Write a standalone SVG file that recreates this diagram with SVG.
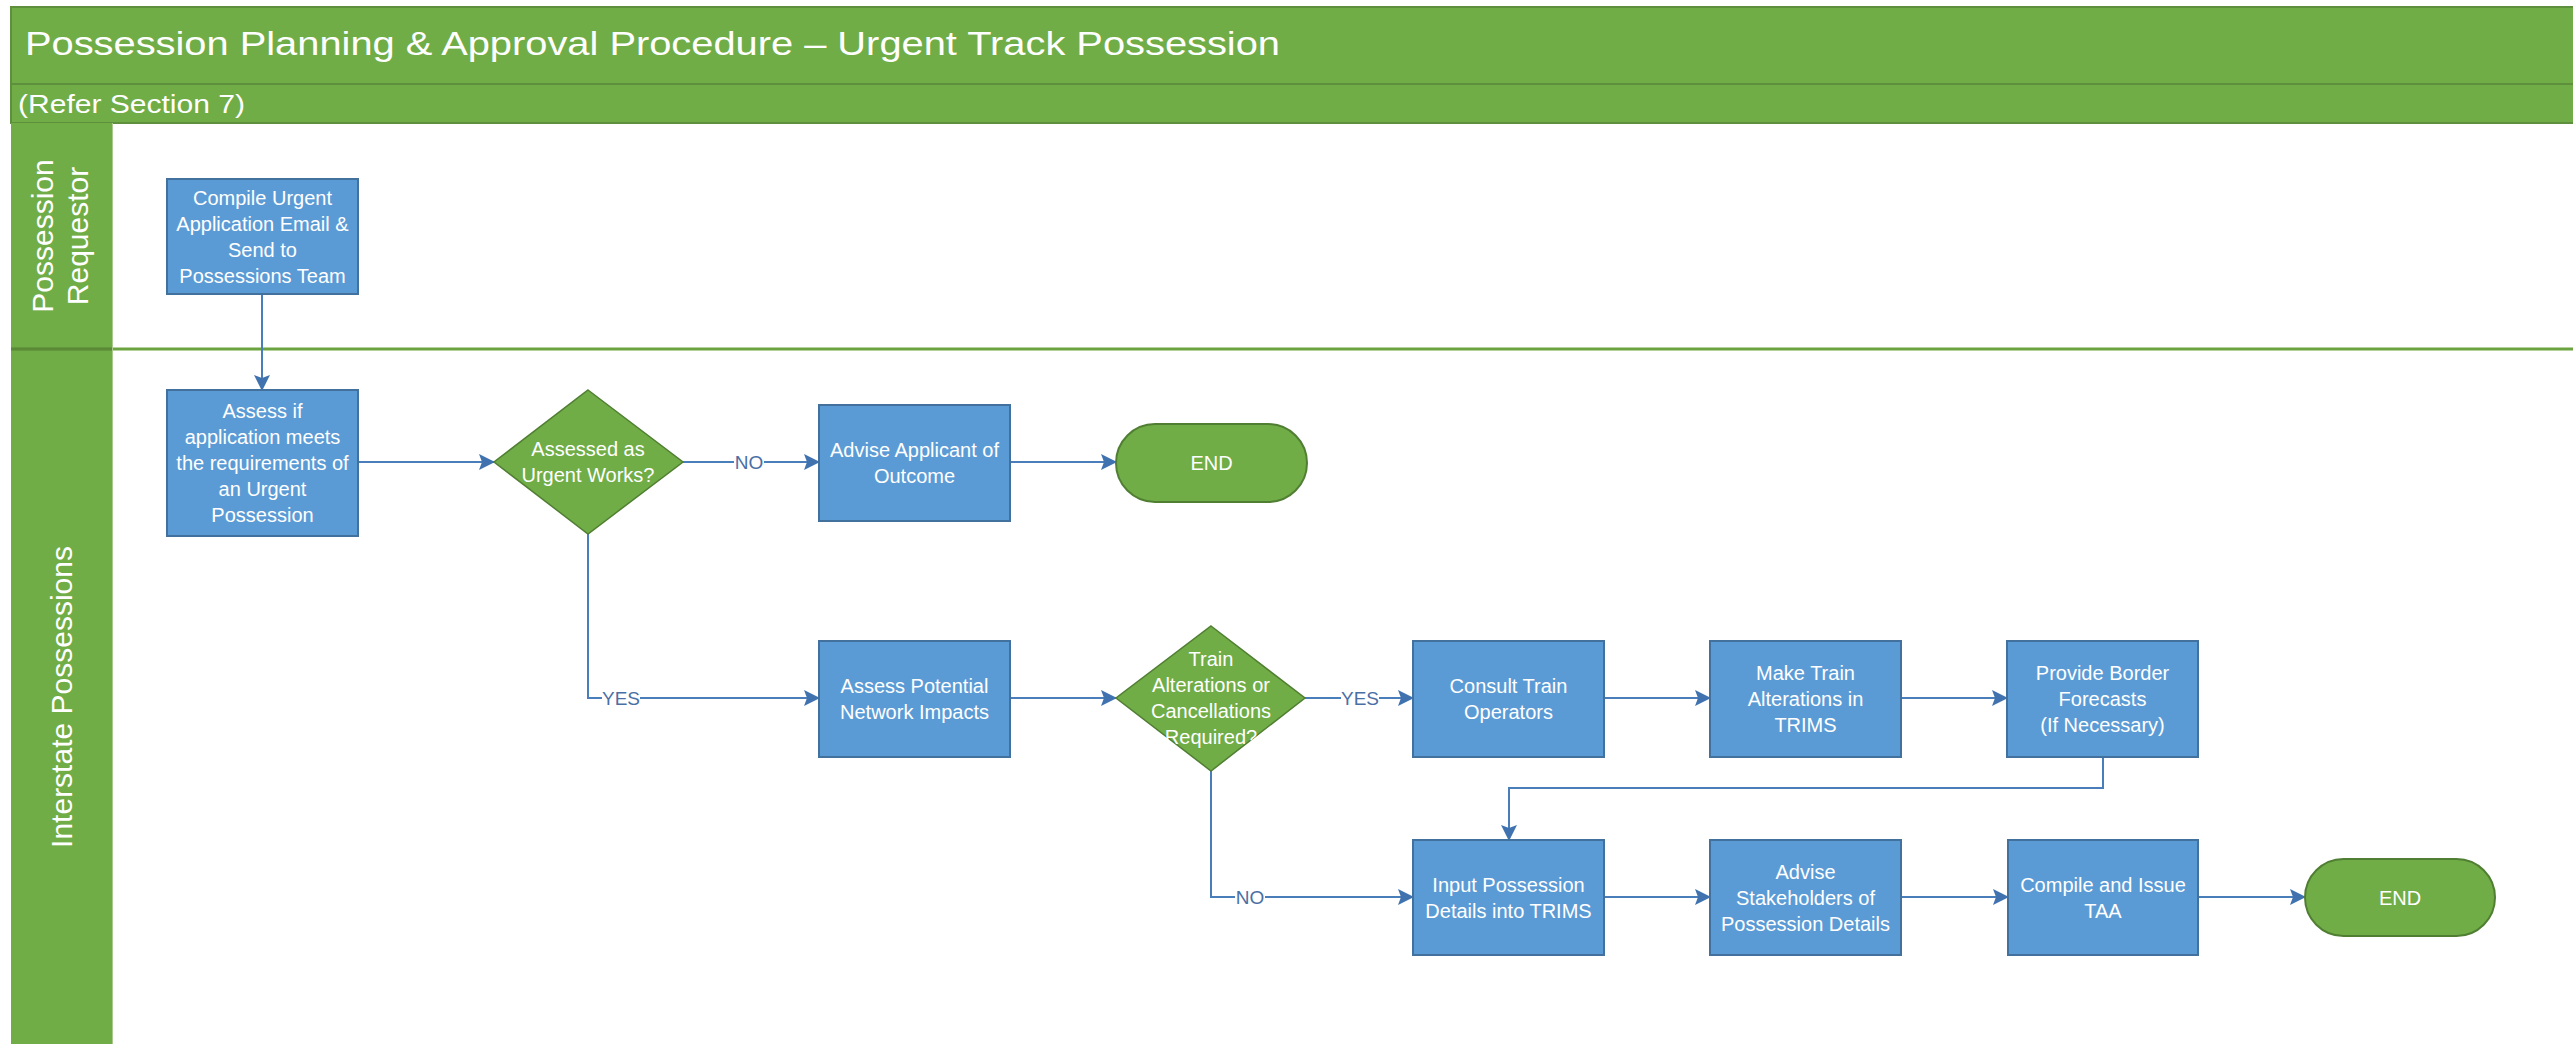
<svg xmlns="http://www.w3.org/2000/svg" width="2573" height="1044" viewBox="0 0 2573 1044">
<style>
.bar{fill:#70AD47;stroke:#5E8F3C;stroke-width:2}
.lanehdr{fill:#70AD47}
.box{fill:#5B9BD5;stroke:#41719C;stroke-width:2}
.dec{fill:#70AD47;stroke:#507E32;stroke-width:1.5}
.term{fill:#70AD47;stroke:#507E32;stroke-width:2}
.t{font-family:"Liberation Sans",Arial,sans-serif;font-size:20px;fill:#FFFFFF;text-anchor:middle}
.hdr{font-family:"Liberation Sans",Arial,sans-serif;font-size:30px;fill:#FFFFFF;text-anchor:middle}
.title{font-family:"Liberation Sans",Arial,sans-serif;font-size:33px;fill:#FFFFFF}
.sub{font-family:"Liberation Sans",Arial,sans-serif;font-size:26px;fill:#FFFFFF}
.conn{fill:none;stroke:#4A7EBB;stroke-width:2}
.lbl{font-family:"Liberation Sans",Arial,sans-serif;font-size:19px;fill:#4A6FA5;text-anchor:middle}
.lblbg{fill:#FFFFFF}
</style>
<defs>
<marker id="arr" markerUnits="userSpaceOnUse" markerWidth="16" markerHeight="16" refX="15" refY="8" orient="auto">
<path d="M0,0 L16,8 L0,16 L3,8 z" fill="#3F72AE"/>
</marker>
</defs>
<rect x="0" y="0" width="2573" height="1044" fill="#FFFFFF"/>
<g id="header">
<rect class="bar" x="11" y="7" width="2570" height="77"/>
<text class="title" x="25" y="55" textLength="1255" lengthAdjust="spacingAndGlyphs">Possession Planning &amp; Approval Procedure – Urgent Track Possession</text>
<rect class="bar" x="11" y="84" width="2570" height="39"/>
<text class="sub" x="18" y="113" textLength="227" lengthAdjust="spacingAndGlyphs">(Refer Section 7)</text>
</g>
<g id="lanes">
<rect class="lanehdr" x="11" y="123" width="101" height="925"/>
<line x1="11" y1="349" x2="2573" y2="349" stroke="#6AA33F" stroke-width="3"/>
<line x1="11" y1="349" x2="112" y2="349" stroke="#5A8A36" stroke-width="3"/>
<line x1="112.5" y1="123" x2="112.5" y2="1044" stroke="#A9C98F" stroke-width="1"/>
<text class="hdr" transform="translate(53,236) rotate(-90)">Possession</text>
<text class="hdr" transform="translate(88,236) rotate(-90)">Requestor</text>
<text class="hdr" transform="translate(72,697) rotate(-90)">Interstate Possessions</text>
</g>
<g id="connectors">
<path class="conn" d="M262,294 V390" marker-end="url(#arr)"/>
<path class="conn" d="M358,462 H494" marker-end="url(#arr)"/>
<path class="conn" d="M683,462 H819" marker-end="url(#arr)"/>
<path class="conn" d="M1010,462 H1116" marker-end="url(#arr)"/>
<path class="conn" d="M588,534 V698 H819" marker-end="url(#arr)"/>
<path class="conn" d="M1010,698 H1116" marker-end="url(#arr)"/>
<path class="conn" d="M1305,698 H1413" marker-end="url(#arr)"/>
<path class="conn" d="M1604,698 H1710" marker-end="url(#arr)"/>
<path class="conn" d="M1901,698 H2007" marker-end="url(#arr)"/>
<path class="conn" d="M2103,757 V788 H1509 V840" marker-end="url(#arr)"/>
<path class="conn" d="M1211,771 V897 H1413" marker-end="url(#arr)"/>
<path class="conn" d="M1603,897 H1710" marker-end="url(#arr)"/>
<path class="conn" d="M1901,897 H2008" marker-end="url(#arr)"/>
<path class="conn" d="M2198,897 H2305" marker-end="url(#arr)"/>
<rect class="lblbg" x="734" y="451" width="30" height="22"/>
<text class="lbl" x="749" y="469">NO</text>
<rect class="lblbg" x="602" y="687" width="38" height="22"/>
<text class="lbl" x="621" y="705">YES</text>
<rect class="lblbg" x="1341" y="687" width="38" height="22"/>
<text class="lbl" x="1360" y="705">YES</text>
<rect class="lblbg" x="1235" y="886" width="30" height="22"/>
<text class="lbl" x="1250" y="904">NO</text>
</g>
<g id="n-compile">
<rect class="box" x="167" y="179" width="191" height="115"/>
<text class="t" x="262.5" y="204.5">Compile Urgent</text>
<text class="t" x="262.5" y="230.5">Application Email &amp;</text>
<text class="t" x="262.5" y="256.5">Send to</text>
<text class="t" x="262.5" y="282.5">Possessions Team</text>
</g>
<g id="n-assess">
<rect class="box" x="167" y="390" width="191" height="146"/>
<text class="t" x="262.5" y="418">Assess if</text>
<text class="t" x="262.5" y="444">application meets</text>
<text class="t" x="262.5" y="470">the requirements of</text>
<text class="t" x="262.5" y="496">an Urgent</text>
<text class="t" x="262.5" y="522">Possession</text>
</g>
<g id="n-dec1">
<polygon class="dec" points="588,390 683,462 588,534 494,462"/>
<text class="t" x="588" y="456">Assessed as</text>
<text class="t" x="588" y="482">Urgent Works?</text>
</g>
<g id="n-advise">
<rect class="box" x="819" y="405" width="191" height="116"/>
<text class="t" x="914.5" y="457">Advise Applicant of</text>
<text class="t" x="914.5" y="483">Outcome</text>
</g>
<g id="n-end1">
<rect class="term" x="1116" y="424" width="191" height="78" rx="39" ry="39"/>
<text class="t" x="1211.5" y="470">END</text>
</g>
<g id="n-impacts">
<rect class="box" x="819" y="641" width="191" height="116"/>
<text class="t" x="914.5" y="693">Assess Potential</text>
<text class="t" x="914.5" y="719">Network Impacts</text>
</g>
<g id="n-dec2">
<polygon class="dec" points="1211,626 1305,698 1211,771 1116,698"/>
<text class="t" x="1211" y="666">Train</text>
<text class="t" x="1211" y="692">Alterations or</text>
<text class="t" x="1211" y="718">Cancellations</text>
<text class="t" x="1211" y="744">Required?</text>
</g>
<g id="n-consult">
<rect class="box" x="1413" y="641" width="191" height="116"/>
<text class="t" x="1508.5" y="693">Consult Train</text>
<text class="t" x="1508.5" y="719">Operators</text>
</g>
<g id="n-make">
<rect class="box" x="1710" y="641" width="191" height="116"/>
<text class="t" x="1805.5" y="680">Make Train</text>
<text class="t" x="1805.5" y="706">Alterations in</text>
<text class="t" x="1805.5" y="732">TRIMS</text>
</g>
<g id="n-provide">
<rect class="box" x="2007" y="641" width="191" height="116"/>
<text class="t" x="2102.5" y="680">Provide Border</text>
<text class="t" x="2102.5" y="706">Forecasts</text>
<text class="t" x="2102.5" y="732">(If Necessary)</text>
</g>
<g id="n-input">
<rect class="box" x="1413" y="840" width="191" height="115"/>
<text class="t" x="1508.5" y="891.5">Input Possession</text>
<text class="t" x="1508.5" y="917.5">Details into TRIMS</text>
</g>
<g id="n-stakeholders">
<rect class="box" x="1710" y="840" width="191" height="115"/>
<text class="t" x="1805.5" y="878.5">Advise</text>
<text class="t" x="1805.5" y="904.5">Stakeholders of</text>
<text class="t" x="1805.5" y="930.5">Possession Details</text>
</g>
<g id="n-taa">
<rect class="box" x="2008" y="840" width="190" height="115"/>
<text class="t" x="2103" y="891.5">Compile and Issue</text>
<text class="t" x="2103" y="917.5">TAA</text>
</g>
<g id="n-end2">
<rect class="term" x="2305" y="859" width="190" height="77" rx="38.5" ry="38.5"/>
<text class="t" x="2400" y="904.5">END</text>
</g>
</svg>
